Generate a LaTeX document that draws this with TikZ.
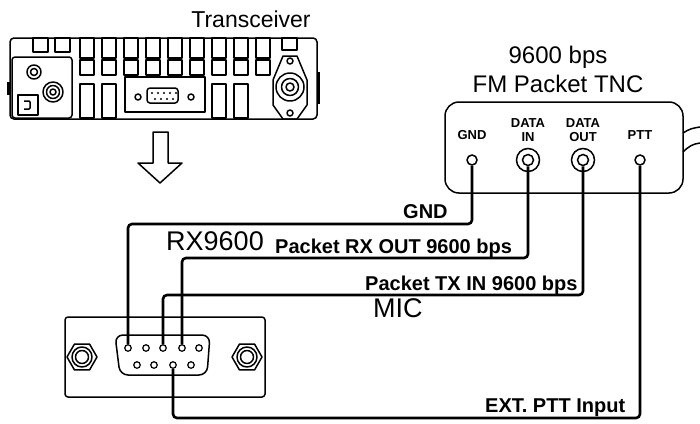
\documentclass[tikz,border=0pt]{standalone}
\usepackage{fontspec}
\setmainfont{Liberation Sans}
\usetikzlibrary{arrows}

\tikzset{
  wire/.style={line width=2.6pt,rounded corners=4pt},
  outline/.style={line width=1.5pt,line join=round},
  jack/.style={circle,draw,line width=1.5pt,inner sep=0pt,minimum size=#1,fill=white},
  jack/.default=10pt,
  pin/.style={circle,draw,line width=1.2pt,inner sep=0pt,minimum size=6.5pt,fill=white},
  wlabel/.style={inner sep=0pt,anchor=base west,font=\fontsize{20}{22}\selectfont\bfseries},
  big/.style={inner sep=0pt,anchor=base,font=\fontsize{27}{30}\selectfont},
}

\begin{document}
\begin{tikzpicture}[x=1pt,y=-1pt]
\useasboundingbox (0,0) rectangle (700,423);
% transceiver, rear panel
\draw[outline,rounded corners=4pt](10,38) rectangle (317,119);
\draw[outline,rounded corners=3pt](12,57) rectangle (72,118);
\draw[outline](33,38) rectangle (48,52)(55,38) rectangle (70,52)(282,38) rectangle (297,50);
\foreach \x in {80,102,...,256}
  \draw[outline](\x,38) rectangle (\x+14,58)(\x,60) rectangle (\x+14,75);
\foreach \x in {80,102,212,234}
  \draw[outline](\x,84) rectangle (\x+14,118);
\draw[outline](34,72) circle (7)(34,72) circle (3.5);
\draw[outline](53,92) circle (10)(53,92) circle (6.5)(53,92) circle (3);
\draw[outline](18,95) rectangle (38,115);
\draw[outline,rounded corners=1pt](24,101) -- (30,101) -- (30,109) -- (24,109);
\draw[outline](125,77) rectangle (205,112);
\draw[outline,rounded corners=3pt](147,88) rectangle (178,103);
\foreach \x in {152,158,...,176} \fill(\x,93) circle (1.1);
\foreach \x in {155,161,...,173} \fill(\x,99) circle (1.1);
\draw[outline](138,97) circle (3)(191,97) circle (3);
\draw[outline](273,80) -- (283,56) -- (297,56) -- (307,80) -- (307,105) -- (297,119) -- (283,119) -- (273,105) -- cycle;
\draw[outline](290,87) circle (14)(290,87) circle (8.5)(290,87) circle (4);
\draw[outline](290,61) circle (3)(290,113) circle (3);
\fill(317,72) rectangle (320,104);
\fill(7,82) rectangle (10,95);
\node[inner sep=0pt,anchor=base,font=\fontsize{23}{25}\selectfont] (trx) at (251,27) {Transceiver};
% arrow
\draw[outline](153,132) -- (153,163) -- (138,163) -- (160,183) -- (182,163) -- (168,163) -- (168,132) -- cycle;

% TNC
\draw[outline,rounded corners=14pt](445,102) rectangle (683,193);
\draw[outline](683,133) .. controls (689,129) and (693,128) .. (700,127);
\draw[outline](683,152) .. controls (689,146) and (693,144) .. (700,143);
\node[inner sep=0pt,anchor=base,font=\fontsize{24}{26}\selectfont] (tnc) at (558,63) {9600 bps};
\node[inner sep=0pt,anchor=base,font=\fontsize{24}{26}\selectfont] (tncb) at (558,92) {FM Packet TNC};
\node[jack] (jgnd) at (472,160) {};
\node[jack=23pt,fill=none] (jinr) at (528,160) {};
\node[jack=11pt] (jin) at (528,160) {};
\node[jack=23pt,fill=none] (joutr) at (583,160) {};
\node[jack=11pt] (jout) at (583,160) {};
\node[jack] (jptt) at (640,160) {};
\begin{scope}[font=\fontsize{13}{13}\selectfont\bfseries]
\node[inner sep=0pt,anchor=base] at (472,139) {GND};
\node[inner sep=0pt,anchor=base] at (528,127) {DATA};
\node[inner sep=0pt,anchor=base] at (528,141) {IN};
\node[inner sep=0pt,anchor=base] at (583,127) {DATA};
\node[inner sep=0pt,anchor=base] at (583,141) {OUT};
\node[inner sep=0pt,anchor=base] at (640,139) {PTT};
\end{scope}

% DB9 on the cable side
\draw[outline,rounded corners=3pt](65,317) rectangle (265,397);
\draw[outline,rounded corners=8pt](115,335) -- (210,335) -- (207,375) -- (120,375) -- cycle;
\foreach \c in {82,247}{
  \draw[outline](\c,357) +(0:15) -- +(60:15) -- +(120:15) -- +(180:15) -- +(240:15) -- +(300:15) -- cycle;
  \draw[outline](\c,357) circle (10)(\c,357) circle (6.5);
}
\coordinate (ygnd) at (0,224);
\coordinate (yrx) at (0,258);
\coordinate (ytx) at (0,295);
\coordinate (yptt) at (0,418);
\node[pin] (p1) at (128,348) {};
\node[pin] (p2) at (146,348) {};
\node[pin] (p3) at (163,348) {};
\node[pin] (p4) at (182,348) {};
\node[pin] (p5) at (199,348) {};
\node[pin] (p6) at (137,365) {};
\node[pin] (p7) at (154,365) {};
\node[pin] (p8) at (173,365) {};
\node[pin] (p9) at (191,365) {};

% wires
\draw[wire](jgnd.south) |- (p1 |- ygnd) -- (p1.north);
\draw[wire](jin.south) |- (p4 |- yrx) -- (p4.north);
\draw[wire](jout.south) |- (p3 |- ytx) -- (p3.north);
\draw[wire](jptt.south) |- (p8 |- yptt) -- (p8.south);

\node[wlabel] at (403,218) {GND};
\node[big] at (215,250) {RX9600};
\node[wlabel] at (275,253) {Packet RX OUT 9600 bps};
\node[wlabel] at (365,290) {Packet TX IN 9600 bps};
\node[big,anchor=base west] at (373,317) {MIC};
\node[wlabel] at (485,412) {EXT. PTT Input};
\end{tikzpicture}
\end{document}
